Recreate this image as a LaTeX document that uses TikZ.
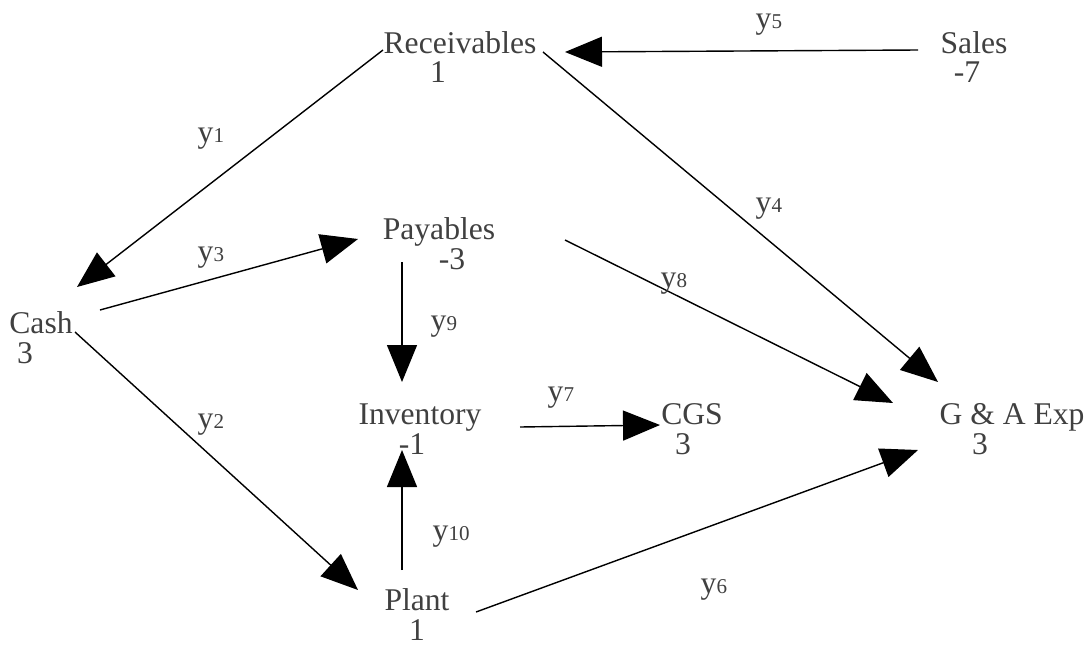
\documentclass[tikz,border=0pt]{standalone}
\usepackage{fontspec}
\setmainfont{Liberation Serif}
\usetikzlibrary{arrows.meta,positioning}

\newcommand{\yl}[1]{y{\fontsize{12}{12}\selectfont #1}}

\begin{document}
\begin{tikzpicture}[x=0.02cm,y=-0.02cm,>={Triangle[length=0.74cm,width=0.6cm]},
  acct/.style={text=black!75,font=\fontsize{18}{20}\selectfont,inner sep=0pt,
    text height=0.44cm,text depth=0.02cm,anchor=base},
  amt/.style={acct,node distance=0.6cm},
  flow/.style={->,line width=0.8pt},
  lbl/.style={text=black!75,font=\fontsize{18}{20}\selectfont,inner sep=0pt,anchor=base west}]
  \useasboundingbox (0,0) rectangle (1091,646);

  \node[acct] (rec) at (460,53) {Receivables};
  \node[amt,below of=rec,xshift=-0.44cm] (rec_v) {1};

  \node[acct] (sales) at (974,53) {Sales};
  \node[amt,below of=sales,xshift=-0.14cm] (sales_v) {-7};

  \node[acct] (pay) at (439,239) {Payables};
  \node[amt,below of=pay,xshift=0.26cm] (pay_v) {-3};

  \node[acct] (cash) at (41,333) {Cash};
  \node[amt,below of=cash,xshift=-0.32cm] (cash_v) {3};

  \node[acct] (inv) at (420,424) {Inventory};
  \node[amt,below of=inv,xshift=-0.16cm] (inv_v) {-1};

  \node[acct] (cgs) at (692,424) {CGS};
  \node[amt,below of=cgs,xshift=-0.18cm] (cgs_v) {3};

  \node[acct] (gae) at (1012,424) {G \& A Exp};
  \node[amt,below of=gae,xshift=-0.64cm] (gae_v) {3};

  \node[acct] (plant) at (417,610) {Plant};
  \node[amt,below of=plant] (plant_v) {1};

  %%%%

  \draw[flow] ([shift={(-56,-3)}]sales.base) -- ([shift={(105,-1)}]rec.base)
    node[lbl] (l5) at (755,28) {\yl{5}};
  \draw[flow] ([shift={(-77,-3)}]rec.base) -- ([shift={(36,-46)}]cash.base)
    node[lbl] (l1) at (197,142) {\yl{1}};
  \draw[flow] ([shift={(83,-1)}]rec.base) -- ([shift={(-74,-42)}]gae.base)
    node[lbl] (l4) at (755,212) {\yl{4}};
  \draw[flow] ([shift={(59,-23)}]cash.base) -- ([shift={(-81,0)}]pay.base)
    node[lbl] (l3) at (197,261) {\yl{3}};
  \draw[flow] ([shift={(126,1)}]pay.base) -- ([shift={(-119,-21)}]gae.base)
    node[lbl] (l8) at (660,287) {\yl{8}};
  \draw[flow] ([shift={(-37,23)}]pay.base) -- ([shift={(-18,-42)}]inv.base)
    node[lbl] (l9) at (430,330) {\yl{9}};
  \draw[flow] ([shift={(34,-1)}]cash.base) -- ([shift={(-59,-20)}]plant.base)
    node[lbl] (l2) at (197,428) {\yl{2}};
  \draw[flow] ([shift={(100,3)}]inv.base) -- ([shift={(-32,1)}]cgs.base)
    node[lbl] (l7) at (547,401) {\yl{7}};
  \draw[flow] ([shift={(-15,-40)}]plant.base) -- ([shift={(-18,26)}]inv.base)
    node[lbl] (l10) at (432,540) {\yl{10}};
  \draw[flow] ([shift={(59,2)}]plant.base) -- ([shift={(-94,26)}]gae.base)
    node[lbl] (l6) at (700,593) {\yl{6}};

\end{tikzpicture}
\end{document}
